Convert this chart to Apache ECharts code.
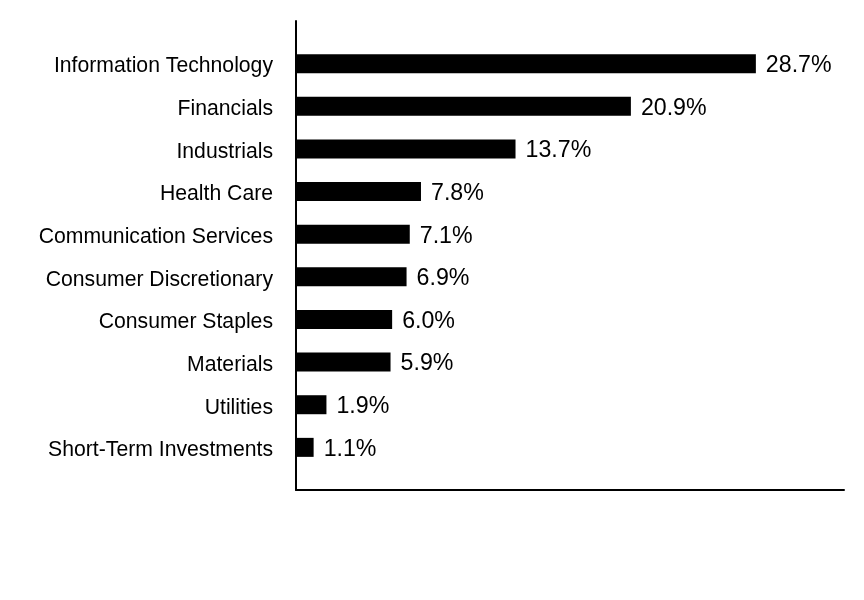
<!DOCTYPE html>
<html>
<head>
<meta charset="utf-8">
<script src="https://cdn.jsdelivr.net/npm/echarts@6/dist/echarts.min.js"></script>
<style>html,body{margin:0;padding:0;background:#fff}#c{width:864px;height:600px}</style>
</head>
<body>
<div id="c"></div>
<script>
const categories = ["Information Technology","Financials","Industrials","Health Care","Communication Services","Consumer Discretionary","Consumer Staples","Materials","Utilities","Short-Term Investments"];
const values = [28.7, 20.9, 13.7, 7.8, 7.1, 6.9, 6.0, 5.9, 1.9, 1.1];

const padCats = [''].concat(categories, ['']);
const padVals = ['-'].concat(values, ['-']);
const FONT = '"Liberation Sans", Arial, Helvetica, sans-serif';

const chart = echarts.init(document.getElementById('c'));
chart.setOption({
  animation: false,
  backgroundColor: '#fff',
  grid: { left: 296, right: 20, top: 21, bottom: 110, containLabel: false },
  xAxis: {
    type: 'value', min: 0, max: 34.2,
    axisLine: { show: true, lineStyle: { color: '#000', width: 2 } },
    axisTick: { show: false }, axisLabel: { show: false }, splitLine: { show: false }
  },
  yAxis: {
    type: 'category', inverse: true, boundaryGap: false, data: padCats,
    axisLine: { show: true, lineStyle: { color: '#000', width: 2 } },
    axisTick: { show: false }, splitLine: { show: false },
    axisLabel: {
      color: '#000', fontSize: 21.2, fontFamily: FONT, margin: 23,
      formatter: v => v ? '{a|' + v + '}' : '',
      rich: { a: { fontSize: 21.2, fontFamily: FONT, color: '#000', padding: [6, 0, 0, 0] } }
    }
  },
  series: [{
    type: 'bar', data: padVals, barWidth: 19,
    itemStyle: { color: '#000' },
    label: {
      show: true, position: 'right', distance: 10, color: '#000',
      fontSize: 23.2, fontFamily: FONT, offset: [0, 2],
      formatter: p => p.value.toFixed(1) + '%'
    }
  }]
});
</script>
</body>
</html>
